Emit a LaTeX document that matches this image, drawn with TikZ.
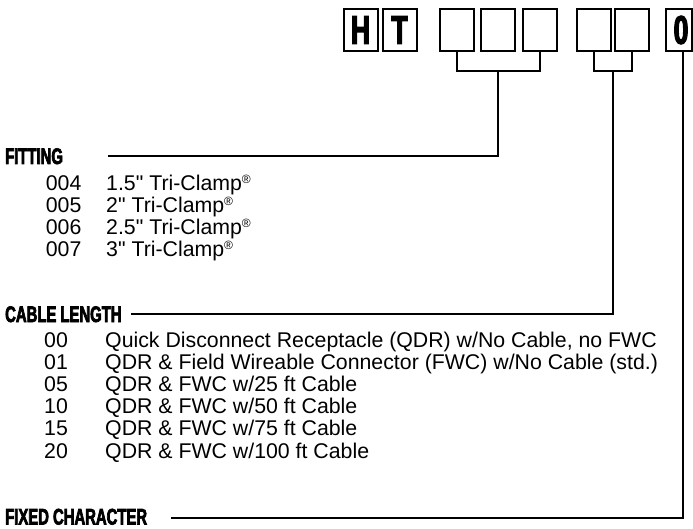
\documentclass[tikz,border=0pt]{standalone}
\usepackage{fontspec}
\setmainfont{Liberation Sans}[Ligatures=TeXOff]
\newfontfamily\headfont{Liberation Sans}[FakeStretch=0.66,FakeBold=3]
\newcommand{\regmark}{{\fontsize{12}{12}\selectfont\raisebox{6.5pt}{®}}}
\begin{document}
\begin{tikzpicture}[x=1pt,y=-1pt,
  codebox/.style={draw,line width=2pt,minimum width=34pt,minimum height=42pt,inner sep=0pt,
    font=\headfont\bfseries\fontsize{40}{40}\selectfont},
  conn/.style={line width=2pt},
  head/.style={anchor=base west,inner sep=0pt,font=\headfont\bfseries\fontsize{22.5}{22.5}\selectfont},
  item/.style={anchor=base west,inner sep=0pt,font=\fontsize{21.3}{21.3}\selectfont}]
\useasboundingbox (0,0) rectangle (693,529);
% code boxes
\node[codebox] (bh) at (360.5,30) {H};
\node[codebox] (bt) at (399.5,30) {T};
\node[codebox] (b1) at (457,30) {};
\node[codebox] (b2) at (498.3,30) {};
\node[codebox] (b3) at (539.5,30) {};
\node[codebox] (c1) at (593.7,30) {};
\node[codebox] (c2) at (632.3,30) {};
\node[codebox,minimum width=26pt] (zero) at (679,30) {\hspace*{4pt}0};
% headings
\node[head] (fit) at (5,164) {FITTING};
\node[head] (cab) at (5,322) {CABLE LENGTH};
\node[head] (fix) at (5,524.5) {FIXED CHARACTER};
\coordinate (fitend) at (108,156);
\coordinate (cabend) at (131,314);
\coordinate (fixend) at (171,517.5);
\coordinate (br1) at (498.3,71);
\coordinate (br2) at (613,71);
\coordinate (zs) at ([xshift=4pt]zero.south);
% connectors
\draw[conn] (b1.south) |- (br1) -| (b3.south);
\draw[conn] (br1) |- (fitend);
\draw[conn] (c1.south) |- (br2) -| (c2.south);
\draw[conn] (br2) |- (cabend);
\draw[conn] (zs) |- (fixend);
% fitting items
\node[item] (f1c) at (45.7,190.5) {004};
\node[item] (f1t) at (106,190.5) {1.5" Tri-Clamp\regmark};
\node[item] (f2c) at (45.7,212.5) {005};
\node[item] (f2t) at (106,212.5) {2" Tri-Clamp\regmark};
\node[item] (f3c) at (45.7,234.5) {006};
\node[item] (f3t) at (106,234.5) {2.5" Tri-Clamp\regmark};
\node[item] (f4c) at (45.7,256.5) {007};
\node[item] (f4t) at (106,256.5) {3" Tri-Clamp\regmark};
% cable items
\node[item] (k1c) at (44,347) {00};
\node[item] (k1t) at (105,347) {Quick Disconnect Receptacle (QDR) w/No Cable, no FWC};
\node[item] (k2c) at (44,369.2) {01};
\node[item] (k2t) at (105,369.2) {QDR \& Field Wireable Connector (FWC) w/No Cable (std.)};
\node[item] (k3c) at (44,391.4) {05};
\node[item] (k3t) at (105,391.4) {QDR \& FWC w/25 ft Cable};
\node[item] (k4c) at (44,413.6) {10};
\node[item] (k4t) at (105,413.6) {QDR \& FWC w/50 ft Cable};
\node[item] (k5c) at (44,435.8) {15};
\node[item] (k5t) at (105,435.8) {QDR \& FWC w/75 ft Cable};
\node[item] (k6c) at (44,458) {20};
\node[item] (k6t) at (105,458) {QDR \& FWC w/100 ft Cable};
\end{tikzpicture}
\end{document}
